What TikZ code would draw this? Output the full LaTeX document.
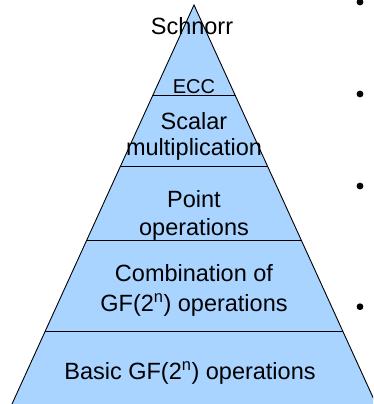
\documentclass[tikz,border=0pt]{standalone}
\usepackage{fontspec}
\setmainfont{Liberation Sans}
\usetikzlibrary{calc}
\definecolor{pyr}{RGB}{168,212,255}
\begin{document}
\begin{tikzpicture}[x=1pt,y=1pt,
  lbl/.style={inner sep=0pt, align=center, text=black},
  divider/.style={draw=black, line width=0.9pt},
  outline/.style={draw=black, line width=0.9pt},
  bulletdot/.style={circle, fill=black, inner sep=0pt, minimum size=6.8pt}]
\useasboundingbox (0,0) rectangle (373,404);
\clip (0,0) rectangle (373,404);
\coordinate (A) at (194,399);
\coordinate (BL) at (12,0);
\coordinate (BR) at (376,0);
\fill[pyr] (A) -- (BL) -- (BR) -- cycle;
\draw[outline] (BL) -- (A) -- (BR);
\foreach \t/\n in {0.2273/1,0.4035/2,0.589/3,0.817/4}{
  \coordinate (L\n) at ($(A)!\t!(BL)$);
  \coordinate (R\n) at ($(A)!\t!(BR)$);
  \draw[divider] (L\n) -- (R\n);
}
\node[lbl, anchor=base, font=\fontsize{23.5}{27}\selectfont] (schnorr) at (192,369) {Schnorr};
\node[lbl, anchor=base, font=\fontsize{20}{24}\selectfont] (ecc) at (194,310.5) {ECC};
\node[lbl, anchor=center, font=\fontsize{23.5}{26}\selectfont] (scalar) at (194,267.1) {Scalar\\multiplication};
\node[lbl, anchor=center, font=\fontsize{23.5}{28}\selectfont] (point) at (194,189) {Point\\operations};
\node[lbl, anchor=center, font=\fontsize{23.5}{29.7}\selectfont] (comb) at (194,113.3) {Combination of\\GF(2\textsuperscript{n}) operations};
\node[lbl, anchor=base, font=\fontsize{23.5}{27}\selectfont] (basic) at (190,24) {Basic GF(2\textsuperscript{n}) operations};
\node[bulletdot] (b1) at (360,402) {};
\node[bulletdot] (b2) at (360,310) {};
\node[bulletdot] (b3) at (360,218) {};
\node[bulletdot] (b4) at (360,97.3) {};
\end{tikzpicture}
\end{document}
